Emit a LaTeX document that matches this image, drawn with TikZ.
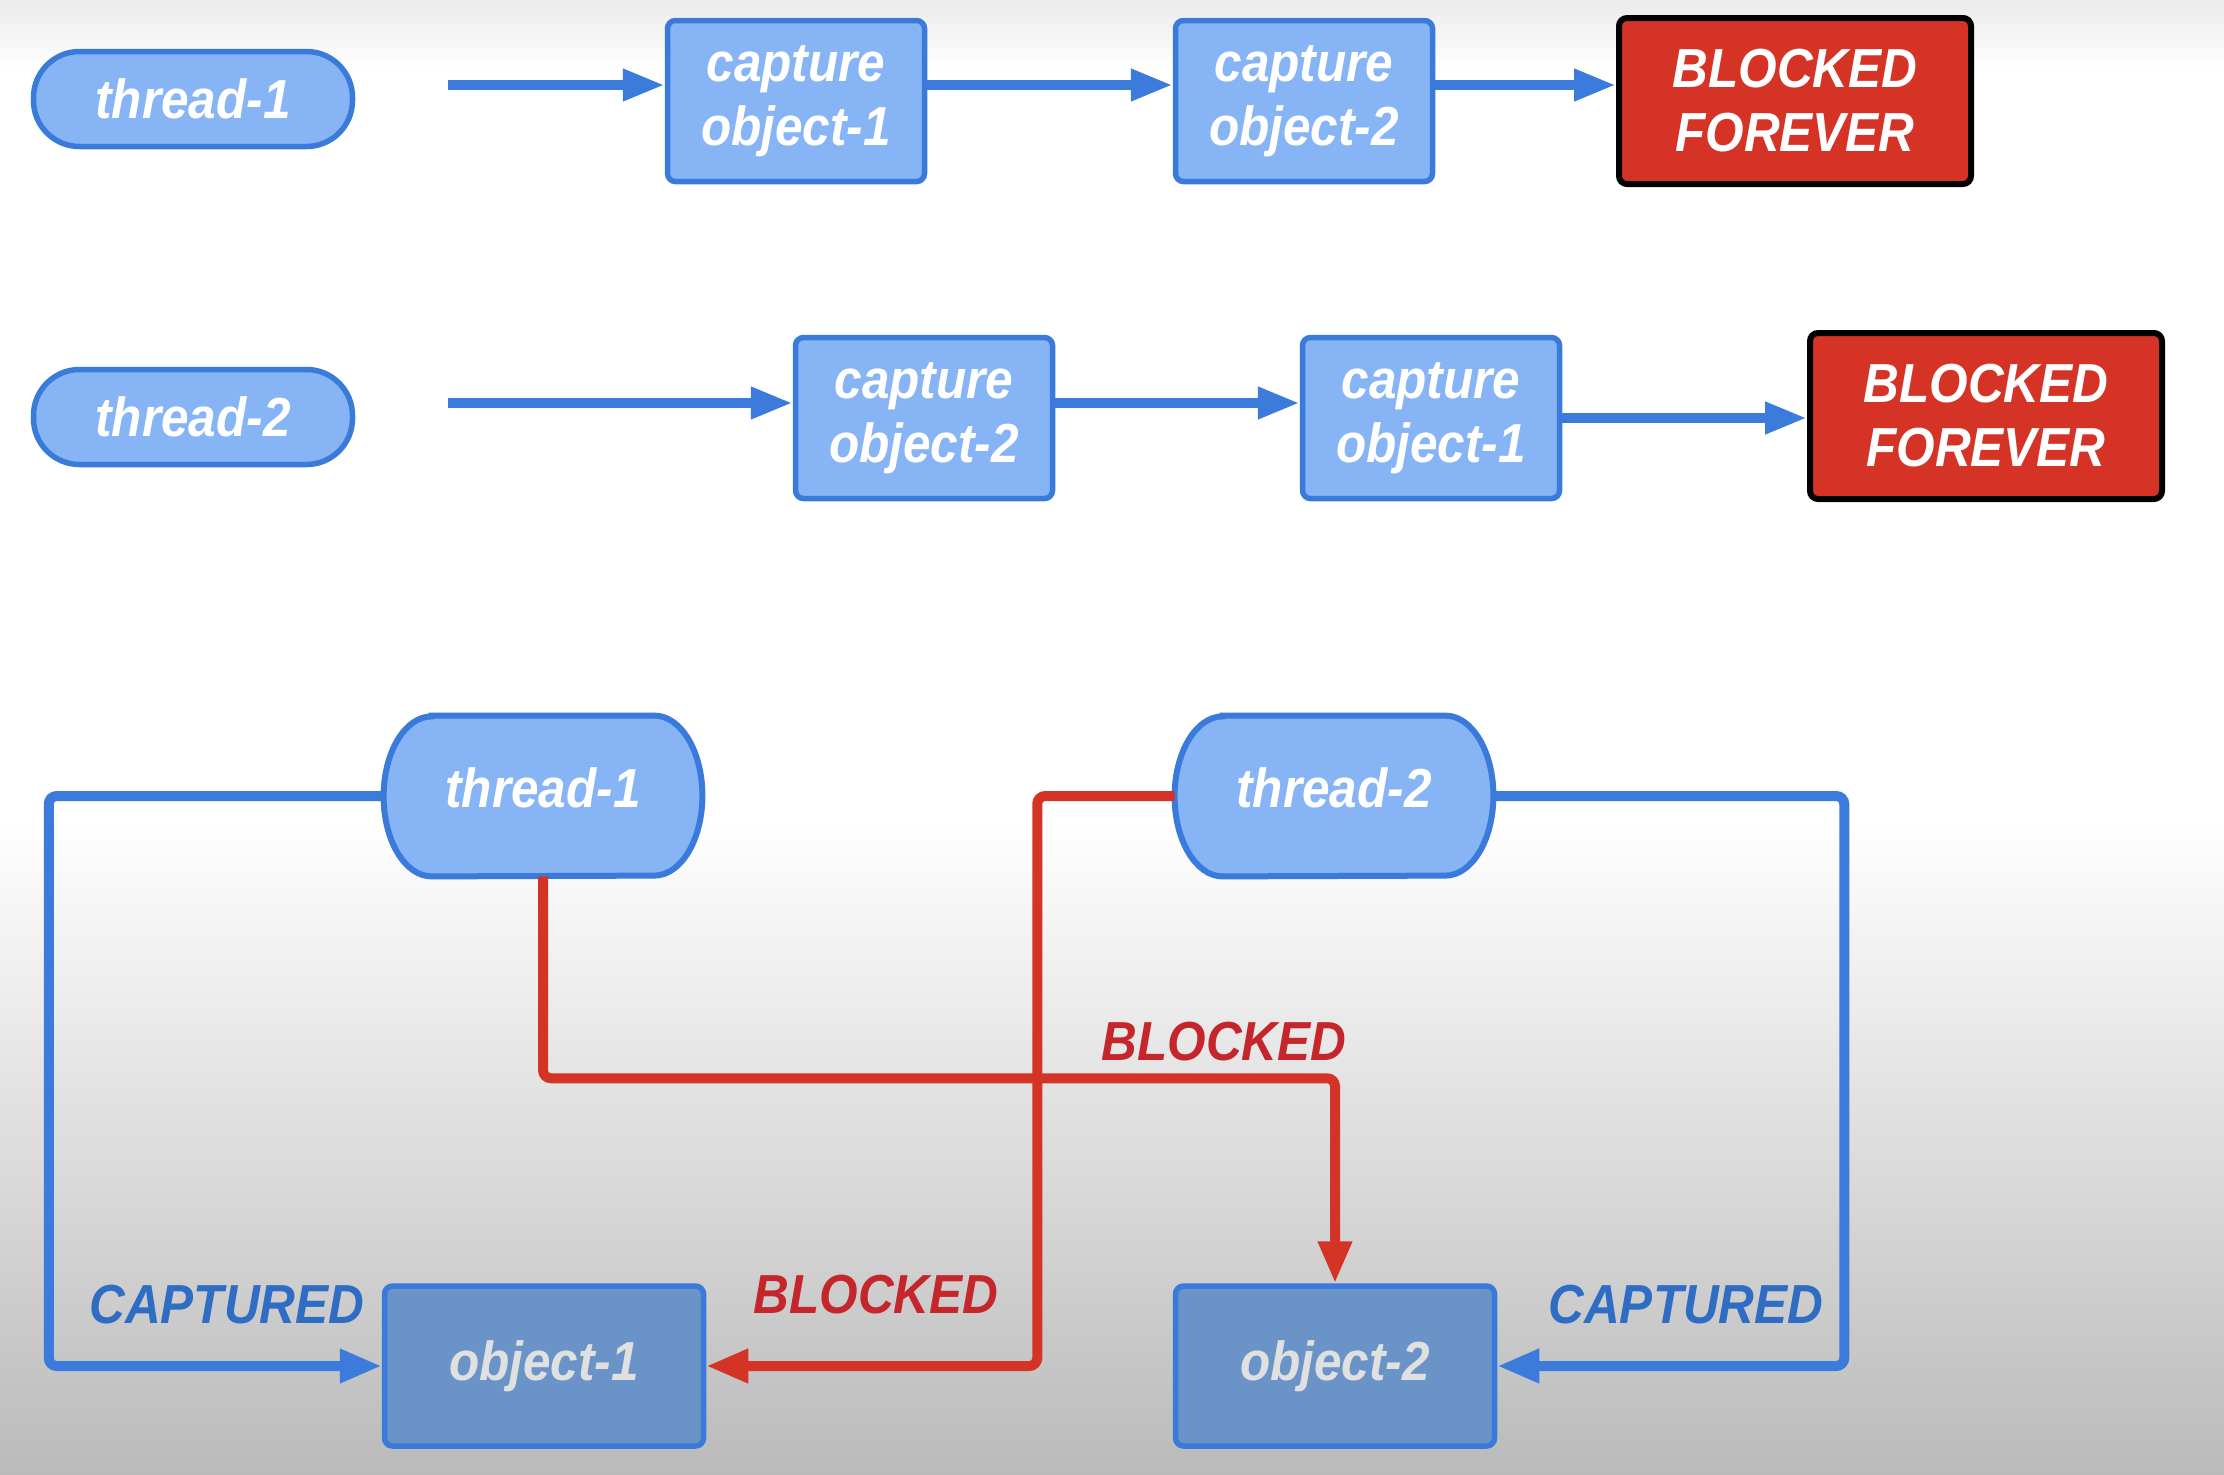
\documentclass[tikz,border=0pt]{standalone}
\usepackage{fontspec}
\setmainfont{Liberation Sans}[FakeStretch=0.9]
\usetikzlibrary{arrows.meta,calc}
\definecolor{nodefill}{HTML}{86B4F4}
\definecolor{nodeline}{HTML}{3A7ADB}
\definecolor{arrowblue}{HTML}{3A7BDC}
\definecolor{objfill}{HTML}{6A93C8}
\definecolor{objtext}{HTML}{E0E0E0}
\definecolor{redfill}{HTML}{D63327}
\definecolor{redline}{HTML}{D33426}
\definecolor{redtext}{HTML}{C4262B}
\definecolor{bluetext}{HTML}{2F6CC4}
\pgfdeclarelayer{bg}
\pgfsetlayers{bg,main}
\tikzset{
 lbl/.style={font=\fontsize{27.5}{32}\selectfont\bfseries\itshape, align=center, inner sep=0pt},
 stad/.style={lbl, text=white, fill=nodefill, draw=nodeline, line width=2.75pt, rounded corners=23pt, minimum width=159.5pt, minimum height=47.5pt},
 capbox/.style={lbl, text=white, fill=nodefill, draw=nodeline, line width=2.75pt, rounded corners=4pt, minimum width=128.5pt, minimum height=80.5pt},
 bfbox/.style={lbl, text=white, fill=redfill, draw=black, line width=3pt, rounded corners=4pt, minimum width=176pt, minimum height=83pt},
 bigthread/.style={lbl, text=white, minimum width=159pt, minimum height=80pt},
 bigshape/.style={fill=nodefill, draw=nodeline, line width=3pt},
 objbox/.style={lbl, text=objtext, fill=objfill, draw=nodeline, line width=2.75pt, rounded corners=4pt, minimum width=159.5pt, minimum height=80pt},
 flow/.style={draw=arrowblue, line width=5pt, -{Triangle[length=21pt,width=15pt]}},
 blueconn/.style={draw=arrowblue, line width=5pt, rounded corners=4pt, -{Triangle[length=21pt,width=16pt]}},
 redconn/.style={draw=redline, line width=5pt, rounded corners=4pt, -{Triangle[length=21pt,width=16pt]}},
}
\newcommand\drawstadium[1]{%
 \draw[bigshape] ($(#1.north west)+(48,0)$) -- ($(#1.north east)+(-48,0)$)
   arc[start angle=-90,end angle=90,x radius=48,y radius=80]
   -- ($(#1.south west)+(48,0)$)
   arc[start angle=90,end angle=270,x radius=48,y radius=80] -- cycle;}
\begin{document}
\begin{tikzpicture}[x=0.5pt,y=-0.5pt]
\useasboundingbox (0,0) rectangle (2224,1474);
\begin{pgfonlayer}{bg}
\fill[white] (0,0) rectangle (2224,1474);
\shade[top color=black!8, bottom color=white] (0,0) rectangle (2224,70);
\shade[top color=white, bottom color=black!27] (0,820) rectangle (2224,1474);
\end{pgfonlayer}

% row 1
\node[stad] (t1) at (193,99) {thread-1};
\node[capbox] (c11) at (796,101) {capture\\object-1};
\node[capbox] (c12) at (1304,101) {capture\\object-2};
\node[bfbox] (bf1) at (1795,101) {BLOCKED\\FOREVER};
\coordinate (s1) at (448,85);
\draw[flow] (s1) -- (s1 -| c11.west);
\draw[flow] ([yshift=8pt]c11.east) -- ([yshift=8pt]c12.west);
\draw[flow] ([yshift=8pt]c12.east) -- ([yshift=8pt]bf1.west);

% row 2
\node[stad] (t2) at (193,417) {thread-2};
\node[capbox] (c22) at (924,418) {capture\\object-2};
\node[capbox] (c21) at (1431,418) {capture\\object-1};
\node[bfbox] (bf2) at (1986,416) {BLOCKED\\FOREVER};
\coordinate (s2) at (448,403);
\draw[flow] (s2) -- (s2 -| c22.west);
\draw[flow] ([yshift=7.5pt]c22.east) -- ([yshift=7.5pt]c21.west);
\draw[flow] (c21.east) -- (c21.east -| bf2.west);

% bottom
\node[bigthread] (t1b) at (543,796) {};
\node[bigthread] (t2b) at (1334,796) {};
\begin{pgfonlayer}{bg}
\drawstadium{t1b}
\drawstadium{t2b}
\end{pgfonlayer}
\node[lbl, text=white] at ([yshift=4pt]t1b.center) {thread-1};
\node[lbl, text=white] at ([yshift=4pt]t2b.center) {thread-2};
\node[objbox] (ob1) at (544,1366) {object-1};
\node[objbox] (ob2) at (1335,1366) {object-2};

\draw[blueconn] (t1b.west) -| ([xshift=-166.5pt]ob1.west) -- (ob1.west);
\draw[redconn] (t1b.south) |- ([yshift=102.5pt]ob2.north) -- (ob2.north);
\draw[redconn] (t2b.west) -| ([xshift=165.5pt]ob1.east) -- (ob1.east);
\draw[blueconn] (t2b.east) -| ([xshift=173.5pt]ob2.east) -- (ob2.east);

\node[lbl, text=bluetext] (cap1) at (227,1305) {CAPTURED};
\node[lbl, text=redtext] (blk1) at (876,1295) {BLOCKED};
\node[lbl, text=redtext] (blk2) at (1224,1042) {BLOCKED};
\node[lbl, text=bluetext] (cap2) at (1686,1305) {CAPTURED};
\end{tikzpicture}
\end{document}
